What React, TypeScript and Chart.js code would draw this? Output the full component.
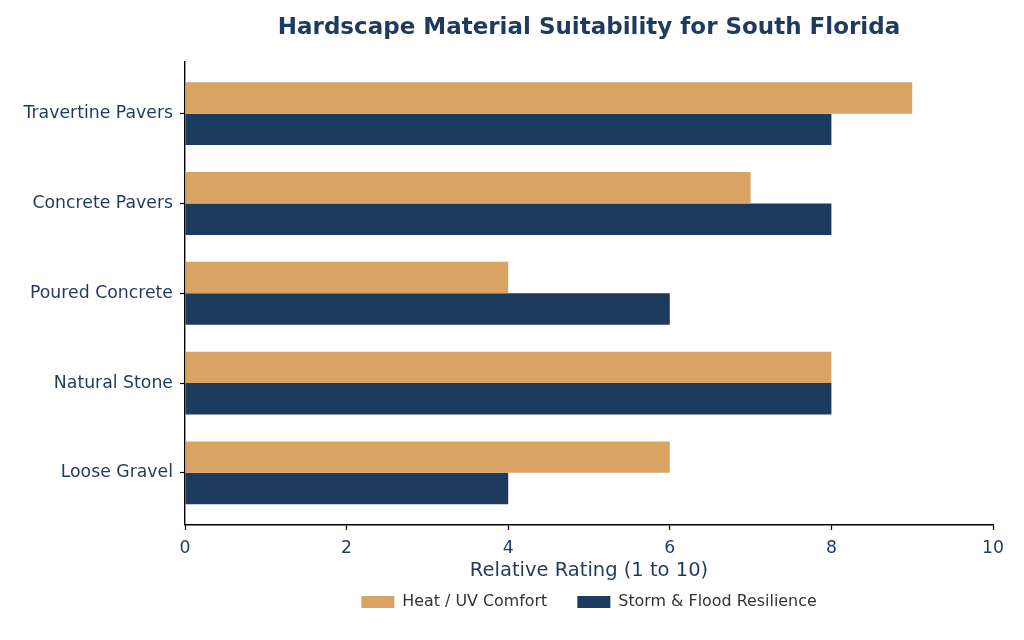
import { useEffect, useRef } from "react"
import { Chart, registerables, type ChartConfiguration } from "chart.js"

Chart.register(...registerables)

const materials = ["Travertine Pavers", "Concrete Pavers", "Poured Concrete", "Natural Stone", "Loose Gravel"]
const heatUvComfort = [9, 7, 4, 8, 6]
const stormFloodResilience = [8, 8, 6, 8, 4]
const xTicks = [0, 2, 4, 6, 8, 10]

const TAN = "#d9a463"
const NAVY = "#1b3a5e"
const TEXT = "#1f3a5f"
const FONT = "DejaVu Sans, Verdana, sans-serif"

export default function App() {
  const chartRef = useRef<HTMLCanvasElement>(null)
  const chartInstance = useRef<Chart | null>(null)

  useEffect(() => {
    document.body.style.margin = "0"
    if (!chartRef.current) return
    const ctx = chartRef.current.getContext("2d")
    if (!ctx) return

    if (chartInstance.current) {
      chartInstance.current.destroy()
    }

    const config: ChartConfiguration<"bar"> = {
      type: "bar",
      data: {
        datasets: [
          {
            label: "Heat / UV Comfort",
            data: heatUvComfort.map((v, i) => ({ x: v, y: i })),
            backgroundColor: TAN,
            borderWidth: 0,
            categoryPercentage: 0.7,
            barPercentage: 1.0,
          },
          {
            label: "Storm & Flood Resilience",
            data: stormFloodResilience.map((v, i) => ({ x: v, y: i })),
            backgroundColor: NAVY,
            borderWidth: 0,
            categoryPercentage: 0.7,
            barPercentage: 1.0,
          },
        ],
      },
      options: {
        indexAxis: "y",
        animation: false,
        responsive: false,
        maintainAspectRatio: false,
        layout: { padding: { left: 0, right: 31, top: 0, bottom: 20 } },
        scales: {
          y: {
            type: "linear",
            min: -0.58,
            max: 4.58,
            reverse: true,
            offset: false,
            afterBuildTicks: (scale) => {
              scale.ticks = materials.map((_, i) => ({ value: i }))
            },
            afterFit: (scale) => {
              scale.width = 185
            },
            grid: {
              display: true,
              offset: false,
              drawOnChartArea: false,
              tickLength: 5,
              tickColor: "#000",
              tickWidth: 1.2,
            },
            border: { display: true, color: "#000", width: 1.4 },
            ticks: {
              color: TEXT,
              font: { family: FONT, size: 17.3 },
              padding: 7,
              callback: (value) => materials[Number(value)] ?? "",
            },
          },
          x: {
            type: "linear",
            min: 0,
            max: 10,
            afterBuildTicks: (scale) => {
              scale.ticks = xTicks.map((v) => ({ value: v }))
            },
            grid: {
              display: true,
              drawOnChartArea: false,
              tickLength: 5,
              tickColor: "#000",
              tickWidth: 1.2,
            },
            border: { display: true, color: "#000", width: 1.4 },
            ticks: {
              color: TEXT,
              font: { family: FONT, size: 17.3 },
              padding: 8,
            },
            title: {
              display: true,
              text: "Relative Rating (1 to 10)",
              color: TEXT,
              font: { family: FONT, size: 19.5 },
              padding: { top: -7, bottom: -19 },
            },
          },
        },
        plugins: {
          title: {
            display: true,
            text: "Hardscape Material Suitability for South Florida",
            color: TEXT,
            fullSize: false,
            font: { family: FONT, size: 23, weight: "bold" },
            padding: { top: 14, bottom: 20 },
          },
          legend: {
            position: "bottom",
            fullSize: false,
            labels: {
              color: "#333333",
              font: { family: FONT, size: 15.9 },
              boxWidth: 33,
              boxHeight: 12,
              padding: 30,
            },
          },
          tooltip: { enabled: false },
        },
      },
    }

    chartInstance.current = new Chart(ctx, config)

    return () => {
      if (chartInstance.current) {
        chartInstance.current.destroy()
        chartInstance.current = null
      }
    }
  }, [])

  return (
    <div style={{ width: 1024, height: 640 }}>
      <canvas ref={chartRef} width={1024} height={640} />
    </div>
  )
}
